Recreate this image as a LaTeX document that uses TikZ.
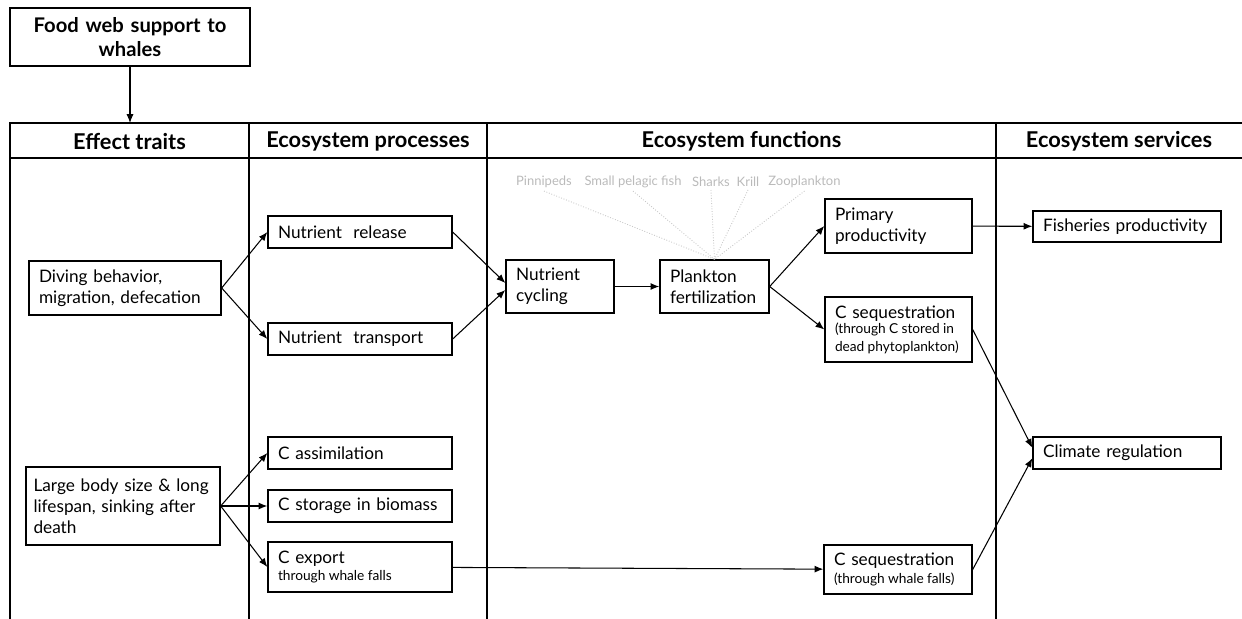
\documentclass[tikz,border=0pt]{standalone}
\usepackage{fontspec}
\setmainfont{Lato}
\usetikzlibrary{arrows.meta}

\tikzset{
  box/.style={draw, line width=0.8pt, align=left, inner xsep=0.2cm, inner ysep=0pt,
    font=\fontsize{9.8}{11.8}\selectfont},
  head/.style={font=\bfseries\fontsize{12.4}{14}\selectfont},
  prey/.style={text=black!27, font=\fontsize{7.4}{8.5}\selectfont, inner sep=1.5pt},
  web/.style={black!22, densely dotted, line width=0.5pt},
  grid/.style={line width=0.9pt},
}
\newcommand{\smalltxt}{\fontsize{7.8}{9}\selectfont\spaceskip=0.24em\relax}

\begin{document}
\begin{tikzpicture}[>={Latex[length=5pt,width=4pt]}, line width=0.6pt, x=0.02cm, y=-0.02cm]
\useasboundingbox (0,0) rectangle (1242,619);

% table
\draw[grid] (10,619) -- (10,123) -- (1242,123);
\draw[grid] (10,158) -- (1242,158);
\foreach \cx in {249,487,996}
    \draw[grid] (\cx,123) -- (\cx,619);

\node[head] (hTraits) at (129.5,141) {Effect traits};
\node[head] (hProc)   at (368,141)   {Ecosystem processes};
\node[head] (hFunc)   at (741.5,141) {Ecosystem functions};
\node[head] (hServ)   at (1119,141)  {Ecosystem services};

% top box
\node[box, align=center, text width=4.4cm, minimum height=1.16cm, font=\bfseries\fontsize{11.5}{13.5}\selectfont] (food) at (130,37) {Food web support to\\whales};
\coordinate (tabtop) at (130,123);
\draw[->] (food) -- (tabtop);

% traits
\node[box, text width=3.44cm, minimum height=1.08cm] (dive) at (125,288) {Diving behavior,\\migration, defecation};
\node[box, inner xsep=0.15cm, text width=3.58cm, minimum height=1.56cm] (body) at (123,506) {Large body size \& long\\lifespan, sinking after\\death};

% processes
\node[box, text width=3.28cm, minimum height=0.64cm] (release)   at (360,232) {Nutrient~ release};
\node[box, text width=3.28cm, minimum height=0.64cm] (transport) at (360,339) {Nutrient~ transport};
\node[box, text width=3.28cm, minimum height=0.64cm] (assim)     at (360,453) {C assimilation};
\node[box, text width=3.28cm, minimum height=0.64cm] (storage)   at (360,506) {C storage in biomass};
\node[box, text width=3.28cm, minimum height=1.0cm, font=\fontsize{9.8}{10}\selectfont] (export) at (360,567) {C export\\\smalltxt through whale falls};

% functions
\node[box, text width=1.76cm, minimum height=1.06cm] (cycling) at (560,286.5) {Nutrient\\cycling};
\node[box, text width=1.78cm, minimum height=1.06cm] (plank)   at (714.5,286.5) {Plankton\\fertilization};
\node[box, text width=2.54cm, minimum height=1.08cm] (primary) at (898.5,226) {Primary\\productivity};
\node[box, text width=2.54cm, minimum height=1.3cm, font=\fontsize{9.8}{9.8}\selectfont] (cseqA) at (898.5,329.5) {C sequestration\\\smalltxt (through C stored in\\dead phytoplankton)};
\node[box, text width=2.56cm, minimum height=0.98cm, font=\fontsize{9.8}{10}\selectfont] (cseqB) at (898,569.5) {C sequestration\\\smalltxt (through whale falls)};

% prey groups
\node[prey] (pinn)  at (544,182)   {Pinnipeds};
\node[prey] (spf)   at (633,182)   {Small pelagic fish};
\node[prey] (shark) at (711,182)   {Sharks};
\node[prey] (krill) at (748,182)   {Krill};
\node[prey] (zoo)   at (804.5,182) {Zooplankton};
\foreach \p in {pinn,spf,shark,krill,zoo}
    \draw[web] (\p.south) -- (plank.north);

% services
\node[box, text width=3.36cm, minimum height=0.62cm] (fish)    at (1127,226.5) {Fisheries productivity};
\node[box, text width=3.36cm, minimum height=0.64cm] (climate) at (1127,453)   {Climate regulation};

% links
\draw[->] (dive.east) -- (release.west);
\draw[->] (dive.east) -- (transport.west);
\draw[->] (release.east) -- ([yshift=2pt]cycling.west);
\draw[->] (transport.east) -- ([yshift=-2pt]cycling.west);
\draw[->] (cycling) -- (plank);
\draw[->] (plank.east) -- (primary.west);
\draw[->] (plank.east) -- (cseqA.west);
\draw[->] (primary) -- (fish);
\draw[->] (cseqA.east) -- ([yshift=3pt]climate.west);
\draw[->] (cseqB.east) -- ([yshift=-3pt]climate.west);
\draw[->] (body.east) -- (assim.west);
\draw[->] (body.east) -- (storage.west);
\draw[->] (body.east) -- (export.west);
\draw[->] (export) -- (cseqB);
\end{tikzpicture}
\end{document}
